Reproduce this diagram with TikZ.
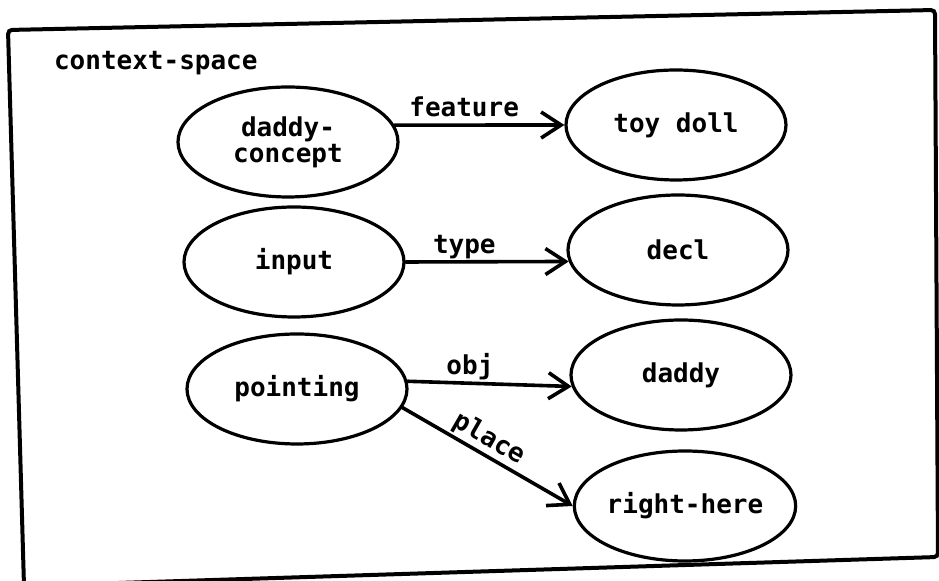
\documentclass[tikz,border=0pt]{standalone}
\usepackage{fontspec}
\setmonofont{DejaVu Sans Mono}
\usetikzlibrary{arrows.meta,shapes.geometric}
\begin{document}
\begin{tikzpicture}[x=0.5pt,y=-0.5pt,
  every node/.style={font=\ttfamily\bfseries\fontsize{13}{13}\selectfont},
  concept/.style={draw, ellipse, line width=1.6pt, minimum width=110pt,
    minimum height=55pt, inner sep=0pt, align=center},
  rel/.style={draw, line width=1.8pt, line cap=round,
    -{Straight Barb[length=10pt,width=13pt]}},
  rellabel/.style={inner sep=0pt, text depth=0pt, above=3.5pt}]
\useasboundingbox (0,0) rectangle (939,581);
\fill[white] (0,0) rectangle (939,581);
% outer frame of the context space
\draw[line width=2pt, rounded corners=2pt]
  (8,30) -- (935,10) -- (938,557) -- (24,586) -- cycle;
\node[anchor=base west] (title) at (47,70) {context-space};
% concepts
\node[concept] (dc)  at (288,142) {daddy-\\concept};
\node[concept] (td)  at (676,125) {toy doll};
\node[concept] (inp) at (294,262) {input};
\node[concept] (dcl) at (678,250) {decl};
\node[concept] (pt)  at (297,389) {pointing};
\node[concept] (dd)  at (681,375) {daddy};
\node[concept] (rh)  at (685,506) {right-here};
% relations
\draw[rel] (dc.9) -- node[rellabel, pos=0.41] {feature} (td.west);
\draw[rel] (inp.east) -- node[rellabel, pos=0.36] {type} (dcl.186);
\draw[rel] (pt.4) -- node[rellabel, pos=0.38] {obj} (dd.186);
\draw[rel] (pt.350) -- node[rellabel, pos=0.46, sloped] {place} (rh.west);
\end{tikzpicture}
\end{document}
